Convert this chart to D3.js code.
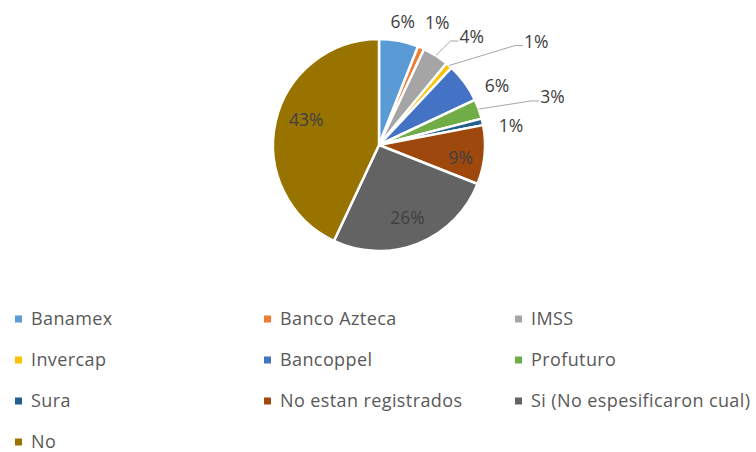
<!DOCTYPE html>
<html>
<head>
<meta charset="utf-8">
<script src="https://cdn.jsdelivr.net/npm/d3@7/dist/d3.min.js"></script>
<style>
  html, body { margin: 0; padding: 0; background: #ffffff; }
  svg { display: block; }
  text { font-family: "Open Sans", "DejaVu Sans", sans-serif; }
</style>
</head>
<body>
<svg id="chart" width="756" height="452"></svg>
<script>
// ---- data ----
const categories = ["Banamex", "Banco Azteca", "IMSS", "Invercap", "Bancoppel", "Profuturo", "Sura", "No estan registrados", "Si (No espesificaron cual)", "No"];
const values = [6, 1, 4, 1, 6, 3, 1, 9, 26, 43];
const labels = ["6%", "1%", "4%", "1%", "6%", "3%", "1%", "9%", "26%", "43%"];
const colors = ["#5B9BD5", "#ED7D31", "#A5A5A5", "#FFC000", "#4472C4", "#70AD47", "#255E91", "#9E480E", "#636363", "#997300"];

// ---- layout (label placement: radius factor, angle shift in degrees, leader) ----
const labelLayout = [
  { k: 1.19, da: 0,   leader: false },
  { k: 1.28, da: 2,   leader: false },
  { k: 1.35, da: 8,   leader: true },
  { k: 1.78, da: 15,  leader: true },
  { k: 1.25, da: 9,   leader: false },
  { k: 1.70, da: 4,   leader: true },
  { k: 1.26, da: 4,   leader: false },
  { k: 0.78, da: 3,   leader: false },
  { k: 0.73, da: 0,   leader: false },
  { k: 0.73, da: 7,   leader: false }
];

const width = 756, height = 452;
const cx = 379, cy = 145, R = 106;

const svg = d3.select("#chart");
const g = svg.append("g").attr("transform", `translate(${cx},${cy})`);

const pie = d3.pie().sort(null).value(d => d)(values);
const arc = d3.arc().innerRadius(0).outerRadius(R);

g.selectAll("path.slice")
  .data(pie)
  .join("path")
  .attr("class", "slice")
  .attr("d", arc)
  .attr("fill", (d, i) => colors[i])
  .attr("stroke", "#ffffff")
  .attr("stroke-width", 2.5)
  .attr("stroke-linejoin", "round");

function polar(angle, r) {
  return [Math.sin(angle) * r, -Math.cos(angle) * r];
}

const lbl = g.selectAll("g.lbl")
  .data(pie)
  .join("g")
  .attr("class", "lbl");

lbl.each(function (d, i) {
  const L = labelLayout[i];
  const mid = (d.startAngle + d.endAngle) / 2;
  const [x, y] = polar(mid + L.da * Math.PI / 180, R * L.k);
  const t = d3.select(this).append("text")
    .attr("x", x)
    .attr("y", y)
    .attr("text-anchor", "middle")
    .attr("dominant-baseline", "central")
    .attr("font-size", 17.5)
    .attr("fill", "#404040")
    .text(labels[i]);
  if (L.leader) {
    const bb = t.node().getBBox();
    const left = bb.x - 1;
    const ly = y + 5;
    const [sx, sy] = polar(mid, R);
    d3.select(this).insert("polyline", "text")
      .attr("points", [[sx, sy], [left - 8, ly], [left, ly]].map(p => p.join(",")).join(" "))
      .attr("fill", "none")
      .attr("stroke", "#A6A6A6")
      .attr("stroke-width", 1);
  }
});

// ---- legend ----
const colX = d3.scaleOrdinal().domain([0, 1, 2]).range([15, 264, 515]);
const rowY = d3.scaleLinear().domain([0, 3]).range([318.5, 441.5]);

const leg = svg.append("g").attr("class", "legend")
  .selectAll("g")
  .data(categories)
  .join("g")
  .attr("transform", (d, i) => `translate(${colX(i % 3)},${rowY(Math.floor(i / 3))})`);

leg.append("rect")
  .attr("x", 0)
  .attr("y", -3)
  .attr("width", 7)
  .attr("height", 7)
  .attr("fill", (d, i) => colors[i]);

leg.append("text")
  .attr("x", 16)
  .attr("y", 6.4)
  .attr("font-size", 18)
  .attr("letter-spacing", 0.4)
  .attr("fill", "#595959")
  .text(d => d);
</script>
</body>
</html>
